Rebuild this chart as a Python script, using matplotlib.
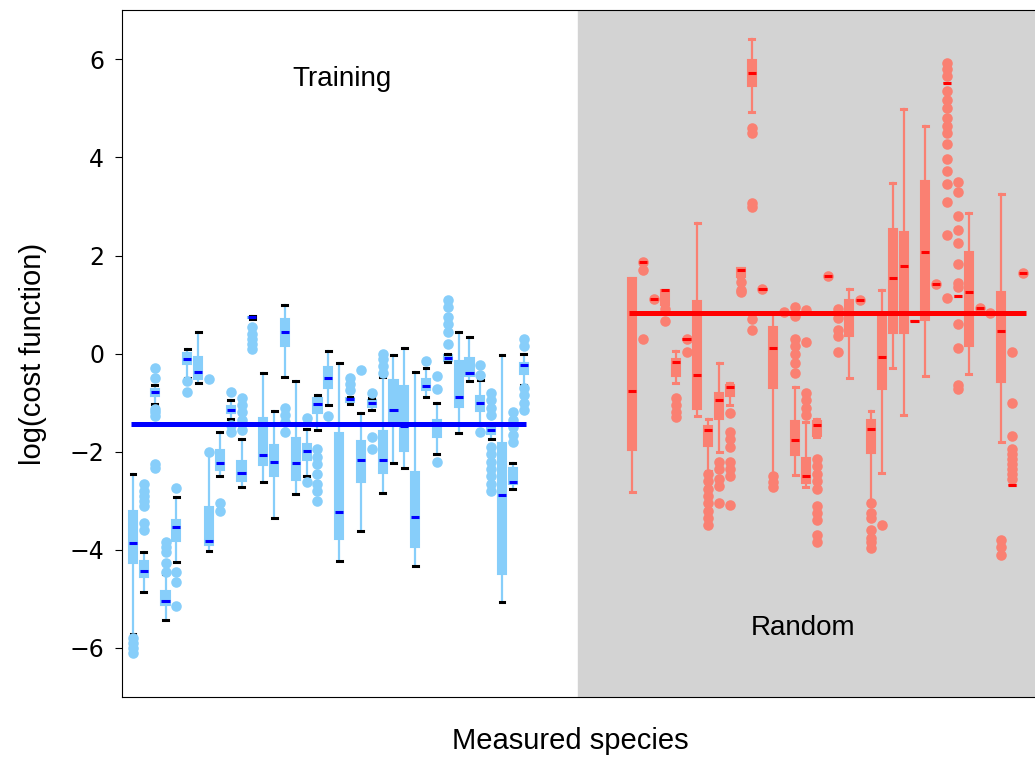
import numpy as np
import matplotlib.pyplot as plt

plt.rcParams['font.family'] = ['Liberation Sans', 'DejaVu Sans']

# Datos: cuartiles, bigotes y valores atípicos por especie
train_lo = [-5.72, -4.86, -1.03, -5.43, -4.25, -0.50, -0.59, -4.02, -2.50, -1.33,
            -2.71, 0.70, -2.62, -3.36, -0.48, -2.86, -2.49, -1.56, -1.05, -4.22,
            -1.02, -3.61, -1.14, -2.84, -2.24, -2.33, -4.34, -0.88, -2.05, -0.17,
            -1.62, -0.56, -1.45, -1.74, -5.07, -2.76, -0.63]
train_q1 = [-4.26, -4.56, -0.87, -5.12, -3.81, -0.22, -0.51, -3.90, -2.37, -1.21,
            -2.59, 0.72, -2.28, -2.50, 0.15, -2.57, -2.16, -1.22, -0.71, -3.78,
            -0.98, -2.62, -1.09, -2.44, -1.48, -1.99, -3.95, -0.75, -1.69, -0.16,
            -1.08, -0.46, -1.16, -1.63, -4.49, -2.65, -0.41]
train_med = [-3.86, -4.44, -0.79, -5.05, -3.54, -0.10, -0.37, -3.81, -2.24, -1.15,
             -2.43, 0.74, -2.06, -2.21, 0.44, -2.22, -1.99, -1.03, -0.50, -3.23,
             -0.93, -2.16, -1.00, -2.16, -1.15, -1.47, -3.34, -0.66, -1.44, -0.08,
             -0.88, -0.40, -1.00, -1.55, -2.89, -2.61, -0.24]
train_q3 = [-3.20, -4.22, -0.72, -4.83, -3.39, 0.01, -0.07, -3.12, -1.96, -1.07,
            -2.18, 0.75, -1.31, -1.87, 0.71, -1.72, -1.84, -0.90, -0.27, -1.62,
            -0.90, -1.78, -0.95, -1.57, -0.54, -0.67, -2.42, -0.51, -1.35, -0.02,
            -0.16, -0.09, -0.86, -1.48, -1.82, -2.33, -0.19]
train_hi = [-2.46, -4.05, -0.65, -4.50, -2.93, 0.10, 0.44, -2.03, -1.59, -0.95,
            -1.75, 0.76, -0.39, -1.16, 0.99, -0.56, -1.53, -0.84, 0.05, -0.20,
            -0.88, -1.22, -0.90, -0.48, -0.03, 0.12, -0.37, -0.30, -1.01, 0.00,
            0.44, 0.33, -0.53, -1.45, -0.03, -2.22, 0.00]
train_fliers = [
    [-5.8, -5.9, -6.0, -6.1],
    [-2.66, -2.8, -2.9, -3.0, -3.1, -3.45, -3.6],
    [-0.3, -0.5, -1.12, -1.2, -1.28, -2.25, -2.33],
    [-3.85, -3.95, -4.05, -4.26, -4.46],
    [-2.74, -4.46, -4.66, -5.14],
    [-0.56, -0.79],
    [],
    [-0.52, -2.01],
    [-3.05, -3.2],
    [-0.78, -1.45, -1.6],
    [-0.9, -1.05, -1.2, -1.35, -1.55],
    [0.55, 0.4, 0.3, 0.2, 0.1],
    [],
    [],
    [-1.1, -1.25, -1.4, -1.6],
    [],
    [-1.31, -2.61],
    [-1.95, -2.1, -2.25, -2.45, -2.65, -2.8, -3.0],
    [-1.28],
    [],
    [-0.5, -0.62, -0.75],
    [-0.34],
    [-0.8, -1.7, -1.95],
    [0.0, -0.12, -0.25, -0.4],
    [],
    [],
    [],
    [-0.16],
    [-0.45, -0.73, -2.2],
    [1.1, 0.95, 0.75, 0.6, 0.45, 0.2],
    [],
    [],
    [-0.24, -0.43, -1.59],
    [-0.8, -0.95, -1.1, -1.25, -1.9, -2.05, -2.2, -2.35, -2.5, -2.65, -2.8],
    [],
    [-1.2, -1.35, -1.5, -1.65, -1.8],
    [0.3, 0.15, -0.7, -0.85, -1.0, -1.15],
]

rand_lo = [-2.82, 1.87, 1.12, 0.95, -0.60, 0.29, -1.27, -2.40, -2.01, -1.04,
           1.57, 4.93, 1.32, -2.45, 0.84, -2.48, -2.72, -1.70, 1.59, 0.80,
           -0.50, 1.10, -3.00, -2.43, -0.30, -1.25, 0.67, -0.46, 1.42, 5.52,
           1.18, -0.41, 0.93, 0.83, -1.80, -2.68, 1.65]
rand_q1 = [-1.97, 1.87, 1.12, 1.00, -0.46, 0.29, -1.13, -1.88, -1.33, -0.87,
           1.57, 5.46, 1.32, -0.70, 0.84, -2.06, -2.64, -1.67, 1.59, 0.80,
           0.35, 1.10, -2.03, -0.72, 0.43, 0.41, 0.67, 0.69, 1.42, 5.52,
           1.18, 0.15, 0.93, 0.83, -0.58, -2.68, 1.65]
rand_med = [-0.77, 1.87, 1.12, 1.29, -0.18, 0.29, -0.43, -1.55, -0.95, -0.68,
            1.70, 5.72, 1.32, 0.12, 0.84, -1.77, -2.49, -1.46, 1.59, 0.80,
            0.80, 1.10, -1.53, -0.06, 1.54, 1.79, 0.67, 2.08, 1.42, 5.52,
            1.18, 1.26, 0.93, 0.83, 0.47, -2.68, 1.65]
rand_q3 = [1.55, 1.87, 1.12, 1.30, -0.12, 0.29, 1.07, -1.47, -0.80, -0.63,
           1.75, 5.99, 1.32, 0.54, 0.84, -1.38, -2.12, -1.38, 1.59, 0.80,
           1.09, 1.10, -1.35, 0.76, 2.55, 2.47, 0.67, 3.52, 1.42, 5.52,
           1.18, 2.08, 0.93, 0.83, 1.26, -2.68, 1.65]
rand_hi = [1.55, 1.87, 1.12, 1.30, 0.05, 0.29, 2.67, -1.33, -0.19, -0.60,
           1.75, 6.42, 1.32, 0.83, 0.84, -0.69, -1.40, -1.33, 1.59, 0.80,
           1.32, 1.10, -1.16, 1.29, 3.48, 4.99, 0.67, 4.64, 1.42, 5.52,
           1.18, 2.87, 0.93, 0.83, 3.25, -2.68, 1.65]
rand_fliers = [
    [],
    [1.87, 1.71, 0.30],
    [1.12],
    [0.9, 0.66],
    [-0.9, -1.05, -1.2, -1.3],
    [0.29, 0.03],
    [],
    [-2.45, -2.6, -2.75, -2.9, -3.05, -3.2, -3.35, -3.5],
    [-2.2, -2.35, -2.55, -2.7, -3.05],
    [-1.22, -1.6, -1.75, -1.9, -2.2, -2.35, -2.5, -3.08],
    [1.45, 1.3, 1.25],
    [4.6, 4.5, 3.08, 2.98, 0.71, 0.49],
    [1.32],
    [-2.5, -2.62, -2.72],
    [0.84],
    [0.94, 0.76, 0.3, 0.15, 0.0, -0.2, -0.4],
    [0.88, 0.24, -0.8, -0.95, -1.1, -1.25],
    [-2.15, -2.3, -2.45, -2.6, -2.75, -3.1, -3.25, -3.4, -3.7, -3.85],
    [1.59],
    [0.9, 0.73, 0.49, 0.35, 0.03],
    [],
    [1.1],
    [-3.05, -3.25, -3.35, -3.6, -3.75, -3.85, -3.97],
    [-3.49],
    [],
    [],
    [],
    [],
    [1.42],
    [5.93, 5.8, 5.66, 5.35, 5.18, 5.01, 4.81, 4.64, 4.5, 4.27, 3.96, 3.72,
     3.45, 3.09, 2.41, 1.14],
    [3.49, 3.3, 2.8, 2.53, 2.26, 1.82, 1.44, 1.35, 0.61, 0.12, -0.63, -0.73],
    [],
    [0.93],
    [0.83],
    [-3.8, -3.95, -4.1],
    [0.04, -1.01, -1.67, -1.95, -2.05, -2.15, -2.25, -2.35, -2.45, -2.55],
    [1.65],
]

train_line = -1.43
rand_line = 0.82

n_train = len(train_med)
n_rand = len(rand_med)
pos_train = np.arange(n_train)
pos_rand = np.arange(n_rand) + n_train + 9


def hacer_stats(lo, q1, med, q3, hi, fl):
    return [dict(whislo=a, q1=b, med=c, q3=d, whishi=e, fliers=f)
            for a, b, c, d, e, f in zip(lo, q1, med, q3, hi, fl)]


def dibujar(ax, stats, pos, color, color_med, color_cap):
    ax.bxp(stats, positions=pos, widths=0.75, capwidths=0.45,
           patch_artist=True, manage_ticks=False,
           boxprops=dict(facecolor=color, edgecolor=color, linewidth=1.5),
           whiskerprops=dict(color=color, linewidth=1.6),
           capprops=dict(color=color_cap, linewidth=2.2),
           medianprops=dict(color=color_med, linewidth=2.2),
           flierprops=dict(marker='o', markersize=7.6, markerfacecolor=color,
                           markeredgecolor='none'))


fig = plt.figure(figsize=(10.35, 7.58), dpi=100)
# el borde derecho queda justo fuera de la imagen, como en el original
ax = fig.add_axes([0.118, 0.0805, 0.8835, 0.906])

ax.axvspan(n_train + 4, n_train + n_rand + 20, color='lightgrey', zorder=0)

dibujar(ax, hacer_stats(train_lo, train_q1, train_med, train_q3, train_hi, train_fliers),
        pos_train, 'lightskyblue', 'blue', 'black')
dibujar(ax, hacer_stats(rand_lo, rand_q1, rand_med, rand_q3, rand_hi, rand_fliers),
        pos_rand, 'salmon', 'red', 'salmon')

ax.hlines(train_line, pos_train[0] - 0.2, pos_train[-1] + 0.2, color='blue', lw=3.6, zorder=5)
ax.hlines(rand_line, pos_rand[0] - 0.3, pos_rand[-1] + 0.3, color='red', lw=3.6, zorder=5)

ax.text(0.24, 0.9, 'Training', transform=ax.transAxes, ha='center', va='center', fontsize=20)
ax.text(0.745, 0.1, 'Random', transform=ax.transAxes, ha='center', va='center', fontsize=20)

ax.set_xlim(-1, pos_rand[-1] + 1.25)
ax.set_ylim(-7, 7)
ax.set_xticks([])
ax.set_yticks([-6, -4, -2, 0, 2, 4, 6])
ax.tick_params(axis='y', labelsize=17, length=5, pad=8)
for lab in ax.get_yticklabels():
    lab.set_family('DejaVu Sans')
ax.set_xlabel('Measured species', fontsize=21)
ax.xaxis.set_label_coords(0.49, -0.044)
ax.set_ylabel('log(cost function)', fontsize=21, labelpad=16)

fig.savefig('out.png', dpi=100)
